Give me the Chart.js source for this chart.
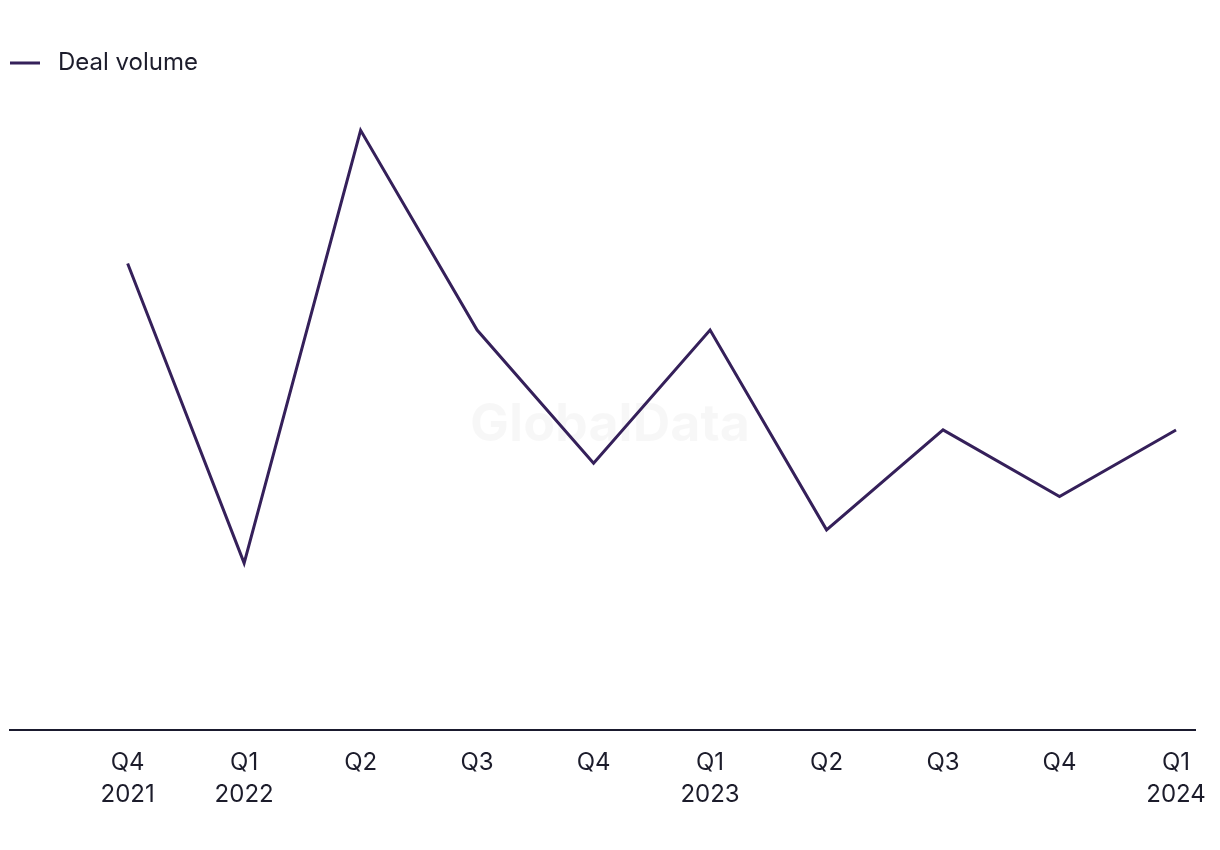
<!DOCTYPE html>
<html>
<head>
<meta charset="utf-8">
<script src="https://cdn.jsdelivr.net/npm/chart.js@4.4.1/dist/chart.umd.min.js"></script>
<style>
  html, body { margin: 0; padding: 0; background: #ffffff; }
  #wrap { width: 1220px; height: 850px; }
</style>
</head>
<body>
<div id="wrap"><canvas id="c" width="1220" height="850"></canvas></div>
<script>
const quarterLabels = [['Q4','2021'],['Q1','2022'],'Q2','Q3','Q4',['Q1','2023'],'Q2','Q3','Q4',['Q1','2024']];
const seriesName = 'Deal volume';
const dealVolume = [14, 5, 18, 12, 8, 12, 6, 9, 7, 9];

const lineColor = '#35205a';
const textColor = '#1c1c2b';
const fontFamily = 'Inter, "Liberation Sans", sans-serif';

// legend swatch: 30px line followed by transparent gap
const swatch = document.createElement('canvas');
swatch.width = 36; swatch.height = 4;
(function(){
  const g = swatch.getContext('2d');
  g.fillStyle = lineColor;
  g.fillRect(0, 0.5, 30, 3);
})();

const watermark = {
  id: 'watermark',
  beforeDatasetsDraw(chart) {
    const ctx = chart.ctx;
    ctx.save();
    ctx.font = 'bold 52px ' + fontFamily;
    ctx.fillStyle = 'rgba(0,0,0,0.03)';
    ctx.textAlign = 'center';
    ctx.textBaseline = 'middle';
    ctx.fillText('GlobalData', 610, 425);
    ctx.restore();
  }
};

new Chart(document.getElementById('c'), {
  type: 'line',
  data: {
    datasets: [{
      label: seriesName,
      data: dealVolume.map((v, i) => ({ x: i, y: v })),
      borderColor: lineColor,
      backgroundColor: lineColor,
      borderWidth: 3,
      pointRadius: 0,
      pointHoverRadius: 0,
      tension: 0,
      fill: false
    }]
  },
  options: {
    responsive: false,
    animation: false,
    layout: { padding: { left: 10, right: 25, top: 51, bottom: 22 } },
    plugins: {
      tooltip: { enabled: false },
      legend: {
        display: true,
        position: 'top',
        align: 'start',
        labels: {
          usePointStyle: true,
          pointStyle: swatch,
          pointStyleWidth: 36,
          padding: 0,
          color: textColor,
          font: { family: fontFamily, size: 24 }
        }
      }
    },
    scales: {
      x: {
        type: 'linear',
        min: -1.01,
        max: 9.163,
        grid: { display: false, drawTicks: false },
        border: { display: true, color: '#1a1a2e', width: 2 },
        afterFit: (scale) => { scale.paddingLeft = 0; scale.paddingRight = 0; },
        ticks: {
          stepSize: 1,
          includeBounds: false,
          autoSkip: false,
          maxRotation: 0,
          minRotation: 0,
          padding: 18,
          color: textColor,
          font: { family: fontFamily, size: 24, lineHeight: 1.3 },
          callback: (value) => (Number.isInteger(value) && value >= 0 && value < quarterLabels.length) ? quarterLabels[value] : ''
        }
      },
      y: {
        display: false,
        min: 0,
        max: 19.36
      }
    }
  },
  plugins: [watermark]
});
</script>
</body>
</html>
